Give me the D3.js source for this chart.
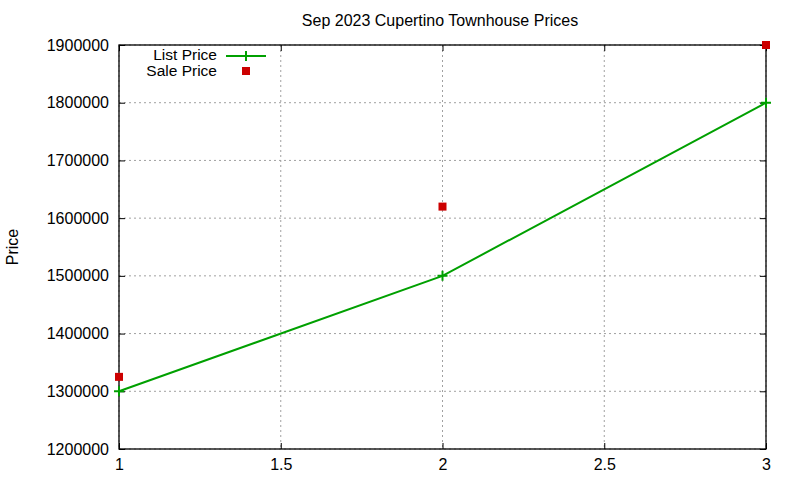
<!DOCTYPE html>
<html>
<head>
<meta charset="utf-8">
<script src="https://cdn.jsdelivr.net/npm/d3@7"></script>
<style>
  body { margin: 0; background: #fff; }
  text { font-family: "Liberation Sans", Arial, sans-serif; fill: #000; }
</style>
</head>
<body>
<div id="chart"></div>
<script>
// data
var xValues = [1, 2, 3];
var listPrice = [1300000, 1500000, 1800000];
var salePrice = [1325000, 1620000, 1900000];
var xTicks = [1, 1.5, 2, 2.5, 3];
var yTicks = [1200000, 1300000, 1400000, 1500000, 1600000, 1700000, 1800000, 1900000];
var seriesNames = ['List Price', 'Sale Price'];

var margin = { top: 45, left: 119, bottom: 31, right: 34 },
    width = 800 - margin.left - margin.right,
    height = 480 - margin.top - margin.bottom;

var green = '#00a000', red = '#cc0000';

var svg = d3.select('#chart').append('svg')
    .attr('width', width + margin.left + margin.right)
    .attr('height', height + margin.top + margin.bottom);

var g = svg.append('g')
    .attr('transform', 'translate(' + margin.left + ',' + margin.top + ')');

var x = d3.scaleLinear().domain([1, 3]).range([0, width]);
var y = d3.scaleLinear().domain([1200000, 1900000]).range([height, 0]);

// grid
g.selectAll('.gx')
    .data(xTicks)
    .enter().append('line')
    .attr('x1', d => x(d)).attr('x2', d => x(d))
    .attr('y1', 0).attr('y2', height)
    .attr('stroke', '#a0a0a0')
    .attr('stroke-dasharray', '2,3');

g.selectAll('.gy')
    .data(yTicks)
    .enter().append('line')
    .attr('x1', 0).attr('x2', width)
    .attr('y1', d => y(d)).attr('y2', d => y(d))
    .attr('stroke', '#a0a0a0')
    .attr('stroke-dasharray', '2,3');

// axes (gnuplot style: inward ticks, mirrored)
var tickLen = 6;
var font = '16px';

var xAxis = d3.axisBottom(x).tickValues(xTicks).tickSizeInner(-tickLen).tickSizeOuter(0).tickPadding(10)
    .tickFormat(d3.format('~g'));
var xAxisTop = d3.axisTop(x).tickValues(xTicks).tickSizeInner(-tickLen).tickSizeOuter(0).tickFormat('');
var yAxis = d3.axisLeft(y).tickValues(yTicks).tickSizeInner(-tickLen).tickSizeOuter(0).tickPadding(10)
    .tickFormat(d3.format('d'));
var yAxisRight = d3.axisRight(y).tickValues(yTicks).tickSizeInner(-tickLen).tickSizeOuter(0).tickFormat('');

g.append('g').attr('transform', 'translate(0,' + height + ')').call(xAxis);
g.append('g').call(xAxisTop);
g.append('g').call(yAxis);
g.append('g').attr('transform', 'translate(' + width + ',0)').call(yAxisRight);

g.selectAll('.domain').remove();
g.selectAll('.tick line').attr('stroke', '#000');
g.selectAll('.tick text')
    .style('font-size', font)
    .style('font-family', '"Liberation Sans", Arial, sans-serif')
    .attr('fill', '#000');

g.append('rect')
    .attr('width', width).attr('height', height)
    .attr('fill', 'none')
    .attr('stroke', '#000')
    .attr('stroke-width', 1.3);

// list price line
var line = d3.line()
    .x((d, i) => x(xValues[i]))
    .y(d => y(d));

g.append('path')
    .datum(listPrice)
    .attr('d', line)
    .attr('fill', 'none')
    .attr('stroke', green)
    .attr('stroke-width', 2);

function plusPath(cx, cy) {
    var s = 5;
    return 'M' + (cx - s) + ',' + cy + 'H' + (cx + s) + 'M' + cx + ',' + (cy - s) + 'V' + (cy + s);
}

g.selectAll('.plus')
    .data(listPrice)
    .enter().append('path')
    .attr('d', (d, i) => plusPath(x(xValues[i]), y(d)))
    .attr('stroke', green)
    .attr('stroke-width', 2);

// sale price points
g.selectAll('.sale')
    .data(salePrice)
    .enter().append('rect')
    .attr('x', (d, i) => x(xValues[i]) - 4)
    .attr('y', d => y(d) - 4)
    .attr('width', 8)
    .attr('height', 8)
    .attr('fill', red);

// legend
var legend = svg.append('g');
legend.selectAll('text')
    .data(seriesNames)
    .enter().append('text')
    .attr('x', 217)
    .attr('y', (d, i) => 55 + i * 16)
    .attr('dy', '0.35em')
    .attr('text-anchor', 'end')
    .style('font-size', '15.5px')
    .text(d => d);

legend.append('line')
    .attr('x1', 226).attr('x2', 266)
    .attr('y1', 56).attr('y2', 56)
    .attr('stroke', green)
    .attr('stroke-width', 2);
legend.append('path')
    .attr('d', plusPath(246, 56))
    .attr('stroke', green)
    .attr('stroke-width', 2);
legend.append('rect')
    .attr('x', 242).attr('y', 67)
    .attr('width', 8).attr('height', 8)
    .attr('fill', red);

// title and label
svg.append('text')
    .attr('x', 440)
    .attr('y', 20)
    .attr('dy', '0.35em')
    .attr('text-anchor', 'middle')
    .style('font-size', font)
    .text('Sep 2023 Cupertino Townhouse Prices');

svg.append('text')
    .attr('transform', 'translate(12,' + (margin.top + height / 2) + ') rotate(-90)')
    .attr('dy', '0.35em')
    .attr('text-anchor', 'middle')
    .style('font-size', font)
    .text('Price');
</script>
</body>
</html>
